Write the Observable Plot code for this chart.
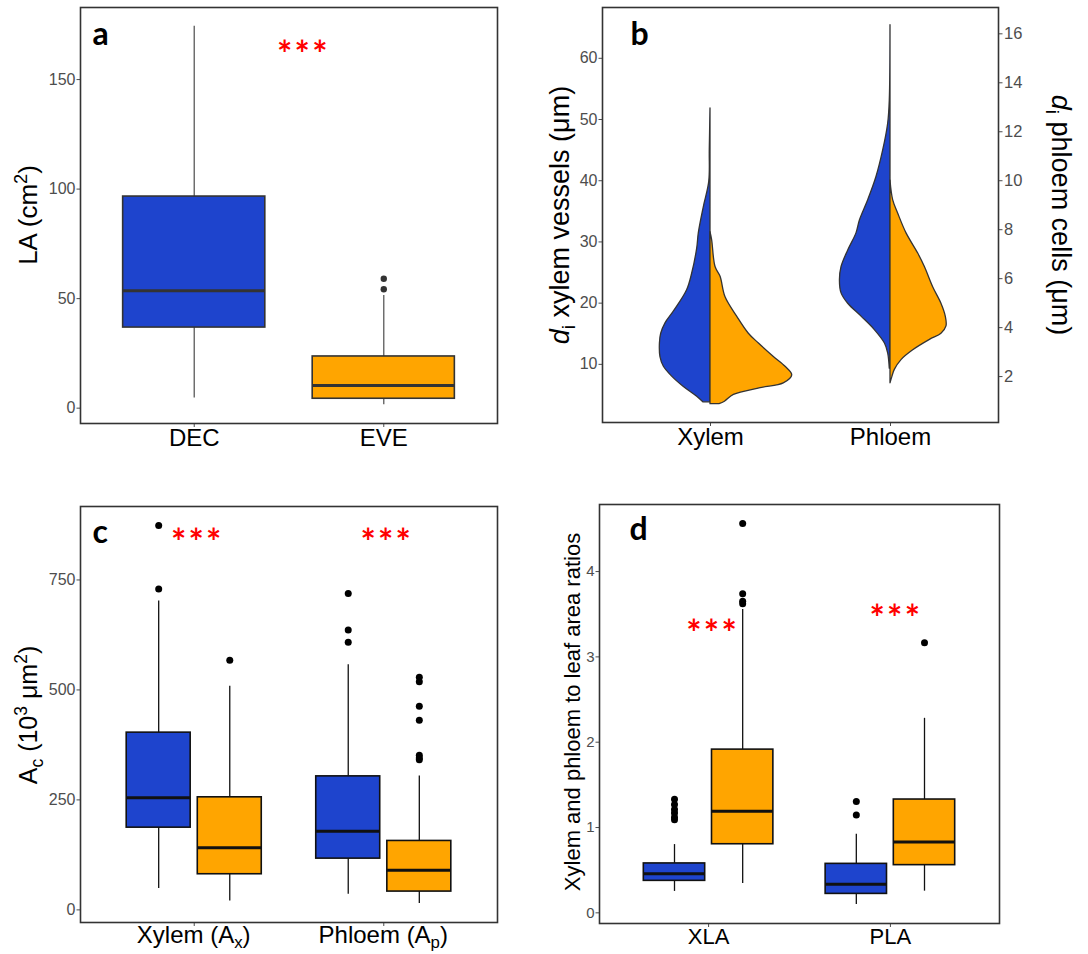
<!DOCTYPE html>
<html><head><meta charset="utf-8">
<script src="https://cdn.jsdelivr.net/npm/d3@7"></script>
<script src="https://cdn.jsdelivr.net/npm/@observablehq/plot@0.6"></script>
<style>
body{margin:0;background:#fff;}
#fig{position:relative;width:1088px;height:954px;background:#fff;overflow:hidden;}
.panel{position:absolute;}
.panel svg{overflow:visible;}
</style></head><body><div id="fig"></div>
<script>
const BLUE = "#1E44CD", ORANGE = "#FFA500", STAR = "#FF0000";
const AX = "'Liberation Sans', Arial, sans-serif";
const LETTER = "Lato, 'Open Sans', sans-serif";

// ---------- Panel a: leaf area ----------
const aGroups = ["DEC", "EVE"];
const aLow  = [4.6, 1.6];
const aQ1   = [36.8, 4.3];
const aMed  = [53.6, 10.4];
const aQ3   = [96.6, 23.6];
const aHigh = [174.3, 51.4];
const aOutGroup = ["EVE", "EVE"];
const aOutVal   = [54.3, 59.1];
const aTicks = [0, 50, 100, 150];
const aStarX = [1.57], aStarY = [165];

// ---------- Panel b: violins (left-axis units; half-widths in category units) ----------
const bGroups = ["Xylem", "Phloem"];
const xylDecY = [51.8, 45, 39.8, 35.7, 31.4, 28.9, 24.8, 22.1, 18.6, 16.7, 15.0, 13.4, 11.2, 9.6, 8.0, 6.3, 4.7, 3.8];
const xylDecW = [0.000, 0.004, 0.007, 0.037, 0.065, 0.074, 0.102, 0.130, 0.204, 0.250, 0.274, 0.281, 0.278, 0.259, 0.213, 0.148, 0.074, 0.040];
const xylEveY = [31.6, 30.3, 25.9, 24.3, 21.0, 17.8, 15.0, 13.4, 11.2, 9.6, 8.2, 6.9, 6.1, 5.0, 3.9, 3.5];
const xylEveW = [0.000, 0.009, 0.028, 0.056, 0.083, 0.148, 0.213, 0.269, 0.352, 0.417, 0.454, 0.407, 0.278, 0.130, 0.080, 0.050];
const phlDecY = [65.4, 53.1, 49.3, 44.9, 40.6, 36.8, 33.5, 31.4, 28.6, 25.9, 23.7, 21.6, 19.9, 17.8, 15.6, 13.4, 11.8, 9.3];
const phlDecW = [0.000, 0.004, 0.013, 0.041, 0.078, 0.124, 0.170, 0.189, 0.235, 0.272, 0.281, 0.272, 0.235, 0.161, 0.087, 0.031, 0.013, 0.004];
const phlEveY = [40.0, 36.8, 34.6, 31.4, 28.1, 25.9, 22.6, 19.9, 17.8, 16.2, 15.0, 14.0, 12.3, 10.7, 9.1, 8.0, 6.9];
const phlEveW = [0.000, 0.015, 0.043, 0.089, 0.154, 0.191, 0.237, 0.283, 0.307, 0.311, 0.283, 0.219, 0.126, 0.061, 0.024, 0.011, 0.000];
const bLeftTicks = [10, 20, 30, 40, 50, 60];
const bRightTickLabels = [2, 4, 6, 8, 10, 12, 14, 16];
const bSecFactor = 4; // left axis = 4 x right axis

// ---------- Panel c: conductive areas ----------
const cCats = ["Xylem", "Phloem"];
const cCat  = ["Xylem", "Xylem", "Phloem", "Phloem"];
const cType = ["DEC", "EVE", "DEC", "EVE"];
const cLow  = [48.4, 20.4, 35.6, 14.3];
const cQ1   = [186.9, 81.0, 116.5, 41.6];
const cMed  = [255.0, 141.5, 178.7, 90.1];
const cQ3   = [402.9, 255.9, 303.5, 156.7];
const cHigh = [702.3, 508.6, 557.0, 304.3];
const cOutCat  = ["Xylem","Xylem","Xylem","Phloem","Phloem","Phloem","Phloem","Phloem","Phloem","Phloem","Phloem","Phloem","Phloem"];
const cOutType = ["DEC","DEC","EVE","DEC","DEC","DEC","EVE","EVE","EVE","EVE","EVE","EVE","EVE"];
const cOutVal  = [874, 729.6, 567.7, 719, 636.5, 608.5, 529, 518.4, 463, 431, 351.5, 345.5, 341];
const cTicks = [0, 250, 500, 750];
const cStarX = [1.01, 2.01], cStarY = [853, 853];

// ---------- Panel d: ratios ----------
const dCats = ["XLA", "PLA"];
const dCat  = ["XLA", "XLA", "PLA", "PLA"];
const dType = ["DEC", "EVE", "DEC", "EVE"];
const dLow  = [0.251, 0.344, 0.098, 0.254];
const dQ1   = [0.375, 0.804, 0.222, 0.559];
const dMed  = [0.457, 1.191, 0.336, 0.831];
const dQ3   = [0.579, 1.913, 0.574, 1.328];
const dHigh = [0.800, 3.556, 0.921, 2.280];
const dOutCat  = ["XLA","XLA","XLA","XLA","XLA","XLA","XLA","XLA","XLA","XLA","PLA","PLA","PLA"];
const dOutType = ["DEC","DEC","DEC","DEC","DEC","DEC","EVE","EVE","EVE","EVE","DEC","DEC","EVE"];
const dOutVal  = [1.33, 1.27, 1.21, 1.17, 1.12, 1.09, 4.563, 3.74, 3.653, 3.623, 1.304, 1.148, 3.166];
const dTicks = [0, 1, 2, 3, 4];
const dStarX = [1.016, 2.024], dStarY = [3.37, 3.545];

const typeColor = {DEC: BLUE, EVE: ORANGE};
const DODGE = 0.1875, HALF_DODGED = 0.16875, HALF_SINGLE = 0.375;

function boxMarks(rows, outs, o) {
  return [
    Plot.ruleX(rows, {x: "x", y1: "lo", y2: "q1", stroke: o.whisker, strokeWidth: o.wsw}),
    Plot.ruleX(rows, {x: "x", y1: "q3", y2: "hi", stroke: o.whisker, strokeWidth: o.wsw}),
    Plot.rect(rows, {x1: d => d.x - o.half, x2: d => d.x + o.half, y1: "q1", y2: "q3", fill: "fill", stroke: o.box, strokeWidth: o.bsw}),
    Plot.ruleY(rows, {x1: d => d.x - o.half, x2: d => d.x + o.half, y: "med", stroke: o.box, strokeWidth: o.msw}),
    Plot.dot(outs, {x: "x", y: "y", r: o.r, fill: o.dot, stroke: "none"})
  ];
}

function letter(ch, dx, dy) {
  return Plot.text([ch], {frameAnchor: "top-left", textAnchor: "start", lineAnchor: "top", dx, dy,
    text: d => d, fontSize: 32, fontWeight: "bold", fontFamily: LETTER, fill: "#000"});
}
function stars(xs, ys) {
  return Plot.text(xs.map((x, i) => ({x, y: ys[i]})), {x: "x", y: "y", text: () => "*\u200A*\u200A*",
    fontSize: 36, fontWeight: "bold", fontFamily: LETTER, fill: STAR, dy: 9});
}

function richText(svg, o, parts) {
  const t = d3.select(svg).append("text")
    .attr("transform", `translate(${o.x},${o.y}) rotate(${o.rotate || 0})`)
    .attr("text-anchor", o.anchor || "middle")
    .attr("font-family", AX).attr("font-size", o.size).attr("fill", o.fill || "#000");
  for (const p of parts) {
    const s = t.append("tspan").text(p.t);
    if (p.it) s.attr("font-style", "italic");
    if (p.sub) s.attr("font-size", o.size * 0.7).attr("baseline-shift", -o.size * 0.22);
    if (p.sup) s.attr("font-size", o.size * 0.7).attr("baseline-shift", o.size * 0.4);
  }
}

function place(svg, left, top) {
  const div = document.createElement("div");
  div.className = "panel";
  div.style.left = left + "px"; div.style.top = top + "px";
  div.appendChild(svg);
  document.getElementById("fig").appendChild(div);
}

const baseStyle = {fontFamily: AX, background: "transparent", overflow: "visible"};
const plain = d => String(d);

// ---------- Build panel a ----------
const aRows = aGroups.map((g, i) => ({x: i + 1, lo: aLow[i], q1: aQ1[i], med: aMed[i], q3: aQ3[i], hi: aHigh[i], fill: i === 0 ? BLUE : ORANGE}));
const aOut = aOutVal.map((v, i) => ({x: aGroups.indexOf(aOutGroup[i]) + 1, y: v}));
const plotA = Plot.plot({
  width: 544, height: 477, marginLeft: 80, marginRight: 47, marginTop: 7, marginBottom: 54,
  style: baseStyle,
  x: {domain: [0.4, 2.6]}, y: {domain: [-7.0, 182.9]}, color: {type: "identity"},
  marks: [
    ...boxMarks(aRows, aOut, {half: HALF_SINGLE, whisker: "#5a5a5a", wsw: 1.3, box: "#333", bsw: 1.6, msw: 3, r: 3.2, dot: "#333"}),
    Plot.axisY(aTicks, {tickFormat: plain, tickSize: 3.5, tickPadding: 1.5, fontSize: 16, color: "#4d4d4d", label: null}),
    Plot.axisX([1, 2], {tickFormat: d => aGroups[d - 1], tickSize: 4, tickPadding: 1, fontSize: 24, color: "#000", stroke: "#4d4d4d", label: null}),
    Plot.frame({stroke: "#333", strokeWidth: 1.6}),
    letter("a", 12, 15),
    stars(aStarX, aStarY)
  ]
});
richText(plotA, {x: 37, y: 215, rotate: -90, size: 26}, [{t: "LA (cm"}, {t: "2", sup: true}, {t: ")"}]);
place(plotA, 0, 0);

// ---------- Build panel b ----------
function halfViolin(ys, ws, center, side) {
  return ys.map((y, i) => ({y, xa: center + side * ws[i], xb: center}));
}
const violins = [
  {rows: halfViolin(xylDecY, xylDecW, 1, -1), fill: BLUE},
  {rows: halfViolin(xylEveY, xylEveW, 1, 1), fill: ORANGE},
  {rows: halfViolin(phlDecY, phlDecW, 2, -1), fill: BLUE},
  {rows: halfViolin(phlEveY, phlEveW, 2, 1), fill: ORANGE}
];
const plotB = Plot.plot({
  width: 544, height: 477, marginLeft: 58, marginRight: 90, marginTop: 7, marginBottom: 55,
  style: baseStyle,
  x: {domain: [0.4, 2.6]}, y: {domain: [0.5, 68.3]},
  marks: [
    ...violins.map(v => Plot.areaX(v.rows, {y: "y", x1: "xa", x2: "xb", fill: v.fill, stroke: "#333", strokeWidth: 1.3, curve: "catmull-rom"})),
    Plot.axisY(bLeftTicks, {tickFormat: plain, tickSize: 3.5, tickPadding: 1.5, fontSize: 16, color: "#4d4d4d", label: null}),
    Plot.axisY(bRightTickLabels.map(v => v * bSecFactor), {anchor: "right", tickFormat: d => String(d / bSecFactor), tickSize: 3.5, tickPadding: 2, fontSize: 16.5, color: "#4d4d4d", label: null}),
    Plot.axisX([1, 2], {tickFormat: d => bGroups[d - 1], tickSize: 4, tickPadding: 1, fontSize: 24, color: "#000", stroke: "#4d4d4d", label: null}),
    Plot.frame({stroke: "#333", strokeWidth: 1.6}),
    letter("b", 28, 15)
  ]
});
richText(plotB, {x: 24.7, y: 215, rotate: -90, size: 27}, [{t: "d", it: true}, {t: "i", sub: true}, {t: " xylem vessels (μm)"}]);
richText(plotB, {x: 508, y: 215, rotate: 90, size: 27}, [{t: "d", it: true}, {t: "i", sub: true}, {t: " phloem cells (μm)"}]);
place(plotB, 544, 0);

// ---------- Build panel c ----------
const cRows = cCat.map((c, i) => ({x: cCats.indexOf(c) + 1 + (cType[i] === "DEC" ? -DODGE : DODGE),
  lo: cLow[i], q1: cQ1[i], med: cMed[i], q3: cQ3[i], hi: cHigh[i], fill: typeColor[cType[i]]}));
const cOut = cOutVal.map((v, i) => ({x: cCats.indexOf(cOutCat[i]) + 1 + (cOutType[i] === "DEC" ? -DODGE : DODGE), y: v}));
const plotC = Plot.plot({
  width: 544, height: 477, marginLeft: 80, marginRight: 47, marginTop: 29, marginBottom: 32,
  style: baseStyle,
  x: {domain: [0.4, 2.6]}, y: {domain: [-28.7, 917]}, color: {type: "identity"},
  marks: [
    ...boxMarks(cRows, cOut, {half: HALF_DODGED, whisker: "#111", wsw: 1.3, box: "#111", bsw: 1.6, msw: 3, r: 3.5, dot: "#000"}),
    Plot.axisY(cTicks, {tickFormat: plain, tickSize: 3.5, tickPadding: 1.5, fontSize: 16, color: "#4d4d4d", label: null}),
    Plot.axisX([1, 2], {tickFormat: () => "", tickSize: 4, tickPadding: 1, fontSize: 24, color: "#000", stroke: "#4d4d4d", label: null}),
    Plot.frame({stroke: "#333", strokeWidth: 1.6}),
    letter("c", 12, 14),
    stars(cStarX, cStarY)
  ]
});
{
  const sx = plotC.scale("x");
  richText(plotC, {x: sx.apply(1), y: 466, size: 24}, [{t: "Xylem (A"}, {t: "x", sub: true}, {t: ")"}]);
  richText(plotC, {x: sx.apply(2), y: 466, size: 24}, [{t: "Phloem (A"}, {t: "p", sub: true}, {t: ")"}]);
}
richText(plotC, {x: 37, y: 238, rotate: -90, size: 25}, [{t: "A"}, {t: "c", sub: true}, {t: " (10"}, {t: "3", sup: true}, {t: " μm"}, {t: "2", sup: true}, {t: ")"}]);
place(plotC, 0, 477);

// ---------- Build panel d ----------
const dRows = dCat.map((c, i) => ({x: dCats.indexOf(c) + 1 + (dType[i] === "DEC" ? -DODGE : DODGE),
  lo: dLow[i], q1: dQ1[i], med: dMed[i], q3: dQ3[i], hi: dHigh[i], fill: typeColor[dType[i]]}));
const dOut = dOutVal.map((v, i) => ({x: dCats.indexOf(dOutCat[i]) + 1 + (dOutType[i] === "DEC" ? -DODGE : DODGE), y: v}));
const plotD = Plot.plot({
  width: 544, height: 477, marginLeft: 55, marginRight: 89, marginTop: 27, marginBottom: 31,
  style: baseStyle,
  x: {domain: [0.4, 2.6]}, y: {domain: [-0.125, 4.786]}, color: {type: "identity"},
  marks: [
    ...boxMarks(dRows, dOut, {half: HALF_DODGED, whisker: "#111", wsw: 1.3, box: "#111", bsw: 1.6, msw: 3, r: 3.5, dot: "#000"}),
    Plot.axisY(dTicks, {tickFormat: plain, tickSize: 3.5, tickPadding: 1.5, fontSize: 15, color: "#4d4d4d", label: null}),
    Plot.axisX([1, 2], {tickFormat: d => dCats[d - 1], tickSize: 4, tickPadding: 1, fontSize: 22, color: "#000", stroke: "#4d4d4d", label: null}),
    Plot.frame({stroke: "#333", strokeWidth: 1.6}),
    letter("d", 30, 13),
    stars(dStarX, dStarY)
  ]
});
richText(plotD, {x: 36, y: 235, rotate: -90, size: 22}, [{t: "Xylem and phloem to leaf area ratios"}]);
place(plotD, 544, 477);
</script></body></html>
